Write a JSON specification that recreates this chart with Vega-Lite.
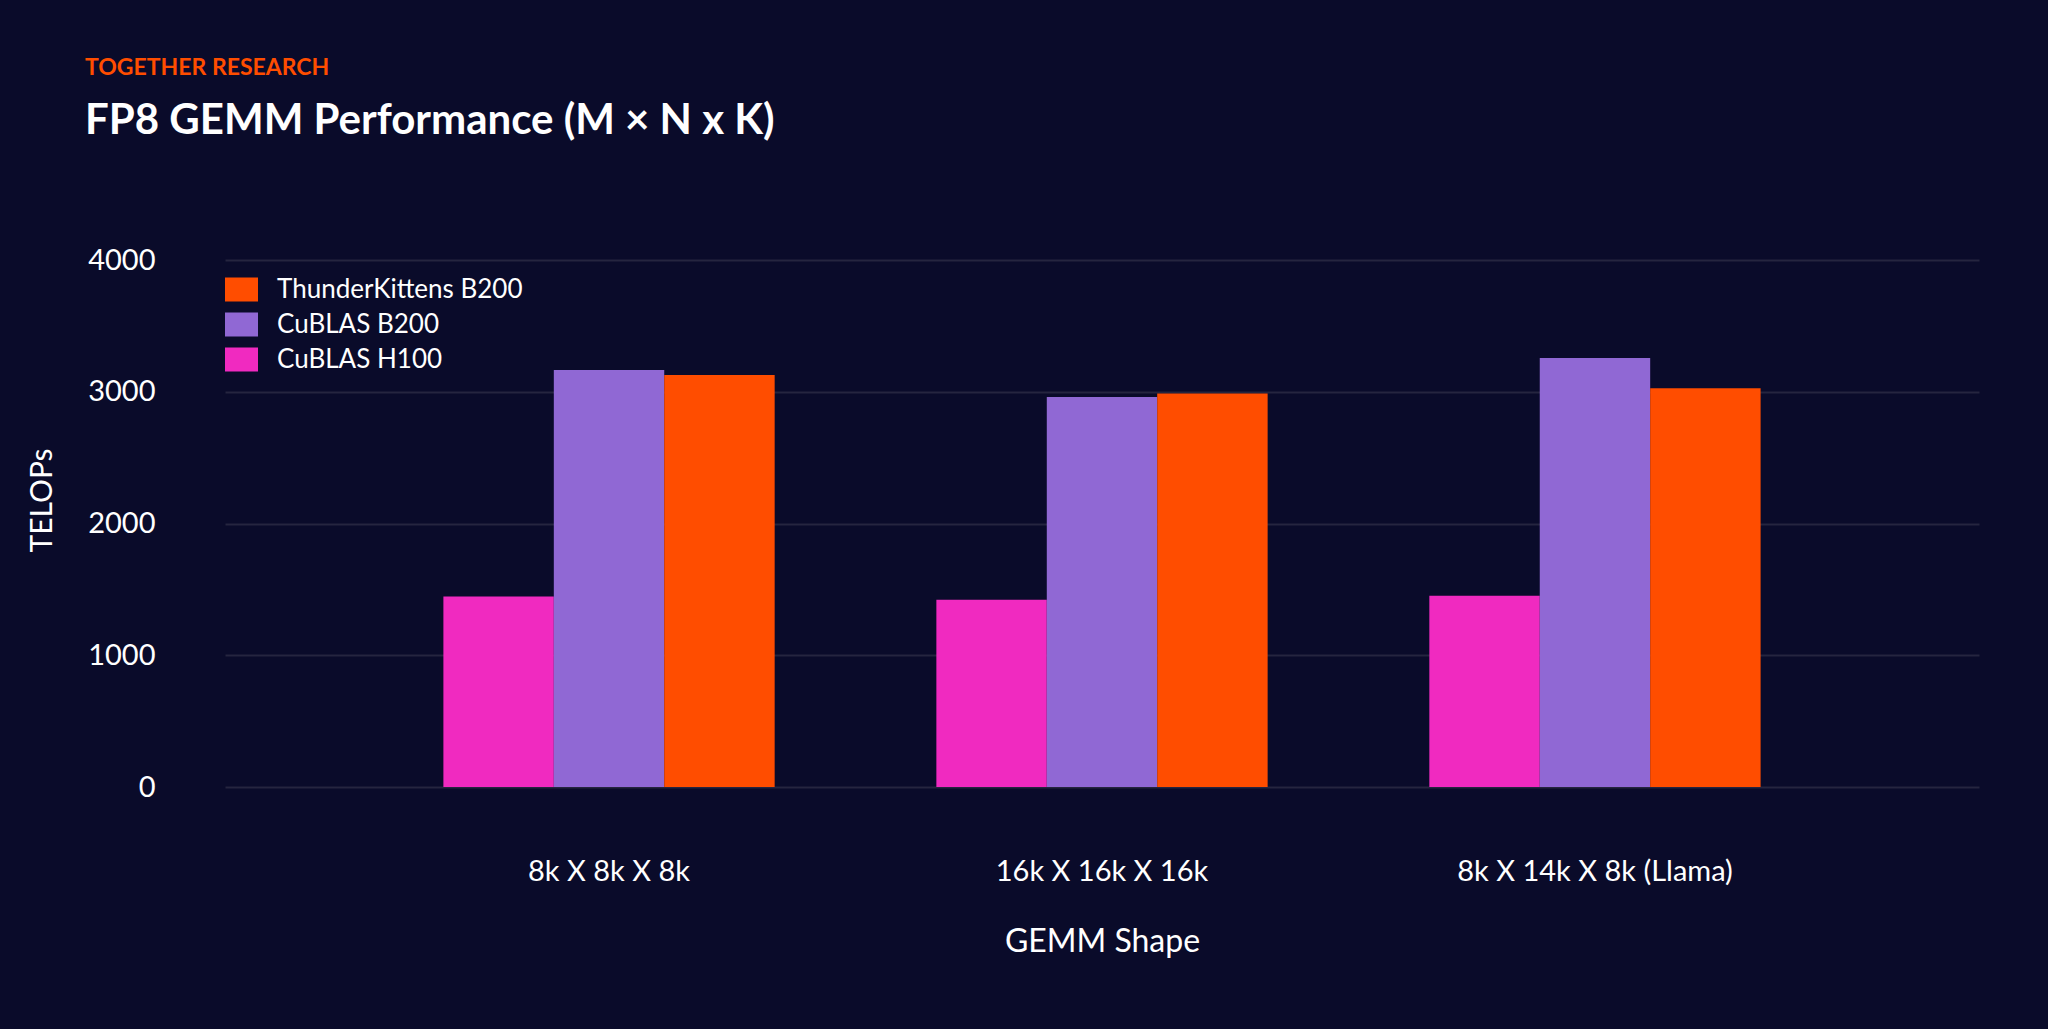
{
  "$schema": "https://vega.github.io/schema/vega-lite/v6.json",
  "width": 1754,
  "height": 527,
  "autosize": {"type": "none"},
  "padding": {"left": 225, "top": 260, "right": 69, "bottom": 242},
  "background": "#0a0b2a",
  "title": {
    "text": "TOGETHER RESEARCH",
    "subtitle": "FP8 GEMM Performance (M × N x K)",
    "anchor": "start",
    "frame": "group",
    "dx": -140,
    "offset": 104,
    "font": "Lato",
    "fontSize": 23,
    "fontWeight": "bold",
    "color": "#ff4d00",
    "subtitleFont": "Lato",
    "subtitleFontSize": 42,
    "subtitleFontWeight": "bold",
    "subtitleColor": "#ffffff",
    "subtitlePadding": 21
  },
  "data": {
    "values": [
      {"shape": "8k X 8k X 8k", "series": "CuBLAS H100", "tflops": 1446},
      {"shape": "8k X 8k X 8k", "series": "CuBLAS B200", "tflops": 3166},
      {"shape": "8k X 8k X 8k", "series": "ThunderKittens B200", "tflops": 3128},
      {"shape": "16k X 16k X 16k", "series": "CuBLAS H100", "tflops": 1421},
      {"shape": "16k X 16k X 16k", "series": "CuBLAS B200", "tflops": 2961},
      {"shape": "16k X 16k X 16k", "series": "ThunderKittens B200", "tflops": 2986},
      {"shape": "8k X 14k X 8k (Llama)", "series": "CuBLAS H100", "tflops": 1451},
      {"shape": "8k X 14k X 8k (Llama)", "series": "CuBLAS B200", "tflops": 3257},
      {"shape": "8k X 14k X 8k (Llama)", "series": "ThunderKittens B200", "tflops": 3027}
    ]
  },
  "mark": {"type": "bar"},
  "encoding": {
    "x": {
      "field": "shape",
      "type": "nominal",
      "sort": ["8k X 8k X 8k", "16k X 16k X 16k", "8k X 14k X 8k (Llama)"],
      "title": "GEMM Shape",
      "scale": {"paddingInner": 0.328, "paddingOuter": 0.443},
      "axis": {
        "labelAngle": 0,
        "labelFont": "Lato",
        "labelFontSize": 29,
        "labelColor": "#ffffff",
        "labelBaseline": "middle",
        "labelPadding": 84,
        "labelLimit": 0,
        "ticks": false,
        "tickSize": 0,
        "domain": false,
        "titleFont": "Lato",
        "titleFontSize": 32,
        "titleFontWeight": "normal",
        "titleColor": "#ffffff",
        "titleY": 154,
        "titleBaseline": "middle"
      }
    },
    "xOffset": {
      "field": "series",
      "sort": ["CuBLAS H100", "CuBLAS B200", "ThunderKittens B200"],
      "scale": {"paddingInner": 0, "paddingOuter": 0}
    },
    "y": {
      "field": "tflops",
      "type": "quantitative",
      "title": "TELOPs",
      "scale": {"domain": [0, 4000], "nice": false},
      "axis": {
        "values": [0, 1000, 2000, 3000, 4000],
        "format": "d",
        "labelFont": "Lato",
        "labelFontSize": 29,
        "labelColor": "#ffffff",
        "labelPadding": 70,
        "ticks": false,
        "tickSize": 0,
        "domain": false,
        "grid": true,
        "gridColor": "#25253f",
        "gridWidth": 2,
        "titleFont": "Lato",
        "titleFontSize": 30,
        "titleFontWeight": "normal",
        "titleColor": "#ffffff",
        "titleAngle": -90,
        "titleAlign": "center",
        "titleBaseline": "middle",
        "titleX": -183,
        "titleY": 240
      }
    },
    "color": {
      "field": "series",
      "type": "nominal",
      "scale": {
        "domain": ["ThunderKittens B200", "CuBLAS B200", "CuBLAS H100"],
        "range": ["#ff4d00", "#9068d4", "#f02ac0"]
      },
      "legend": {
        "orient": "none",
        "legendX": 0,
        "legendY": 13,
        "title": null,
        "padding": 0,
        "symbolType": "M-1,-0.727L1,-0.727L1,0.727L-1,0.727Z",
        "symbolSize": 1089,
        "symbolStrokeWidth": 0,
        "symbolOpacity": 1,
        "labelFont": "Lato",
        "labelFontSize": 26,
        "labelColor": "#ffffff",
        "labelOffset": 19,
        "labelLimit": 0,
        "rowPadding": 5
      }
    }
  },
  "config": {
    "view": {"stroke": null}
  }
}
